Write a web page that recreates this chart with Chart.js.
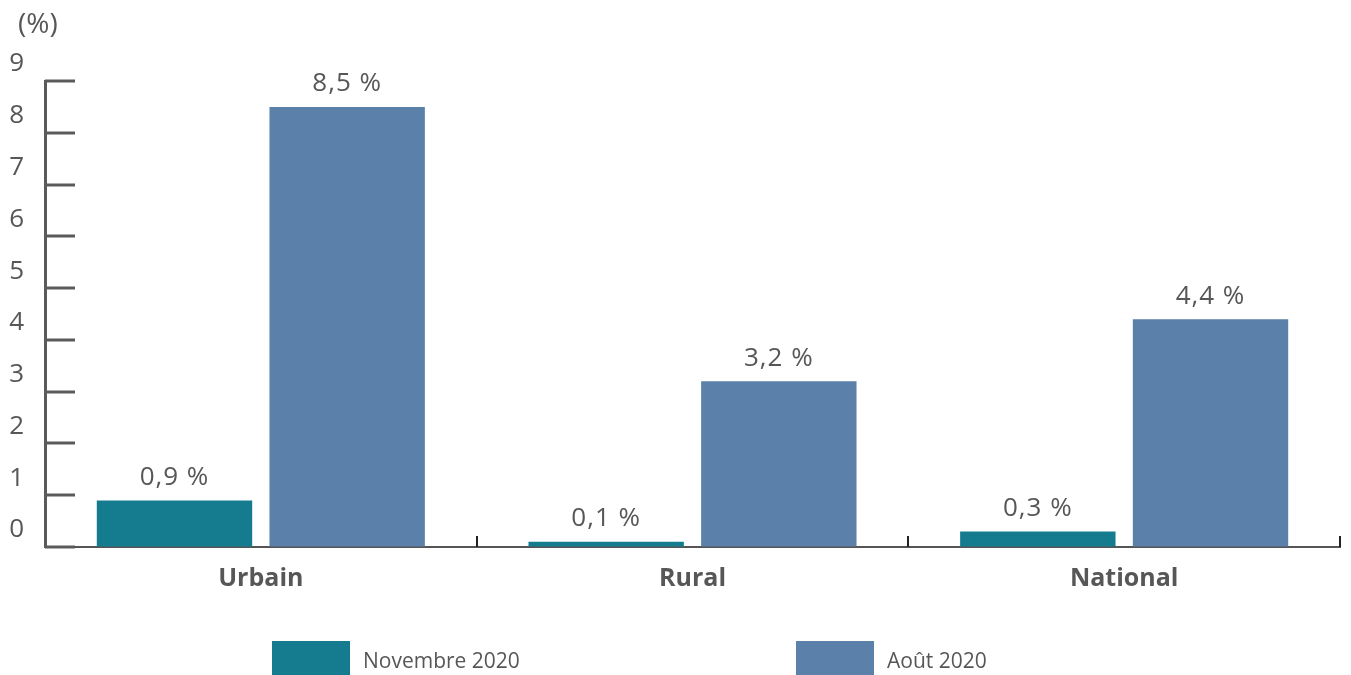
<!DOCTYPE html>
<html>
<head>
<meta charset="utf-8">
<title>Taux par milieu</title>
<script src="https://cdn.jsdelivr.net/npm/chart.js@4/dist/chart.umd.min.js"></script>
<style>
  html, body { margin: 0; padding: 0; background: #fff; }
  #wrap { width: 1351px; height: 675px; position: relative; }
</style>
</head>
<body>
<div id="wrap"><canvas id="tauxChart"></canvas></div>
<script>
// data
var categories = ["Urbain", "Rural", "National"];
var seriesLabels = ["Novembre 2020", "Août 2020"];
var novembre2020 = [0.9, 0.1, 0.3];
var aout2020 = [8.5, 3.2, 4.4];
var yTickValues = [0, 1, 2, 3, 4, 5, 6, 7, 8, 9];

var TEAL = "#157c90";
var BLUE = "#5b80aa";
var GREY = "#575757";

function fmt(v) {
  return v.toFixed(1).replace(".", ",") + " %";
}

// short tick marks drawn inward from the axes
var axisMarks = {
  id: "axisMarks",
  afterDraw: function (chart) {
    var ctx = chart.ctx, area = chart.chartArea;
    var y = chart.scales.y, x = chart.scales.x;
    ctx.save();
    ctx.strokeStyle = "#5a5a5a";
    ctx.lineWidth = 3;
    y.ticks.forEach(function (t) {
      var py = Math.round(y.getPixelForValue(t.value));
      ctx.beginPath();
      ctx.moveTo(area.left, py);
      ctx.lineTo(area.left + 30, py);
      ctx.stroke();
    });
    // category separators on the x axis
    ctx.strokeStyle = "#222";
    ctx.lineWidth = 2;
    for (var i = 0; i < categories.length; i++) {
      var px = Math.round(x.getPixelForValue(i + 0.5));
      ctx.beginPath();
      ctx.moveTo(px, area.bottom);
      ctx.lineTo(px, area.bottom - 11);
      ctx.stroke();
    }
    // unit above the y axis
    ctx.fillStyle = GREY;
    ctx.font = "28px 'Open Sans'";
    ctx.textAlign = "left";
    ctx.textBaseline = "middle";
    ctx.fillText("(%)", 18, 25);
    ctx.restore();
  }
};

// value above each bar
var valueLabels = {
  id: "valueLabels",
  afterDatasetsDraw: function (chart) {
    var ctx = chart.ctx;
    ctx.save();
    ctx.fillStyle = GREY;
    ctx.font = "26px 'Open Sans'";
    ctx.letterSpacing = "1px";
    ctx.textAlign = "center";
    ctx.textBaseline = "middle";
    chart.data.datasets.forEach(function (ds, di) {
      chart.getDatasetMeta(di).data.forEach(function (bar, i) {
        ctx.fillText(fmt(ds.data[i]), bar.x, bar.y - 23);
      });
    });
    ctx.restore();
  }
};

// legend row at the bottom
var legendRow = {
  id: "legendRow",
  afterDraw: function (chart) {
    var ctx = chart.ctx, left = chart.chartArea.left;
    var starts = [left + 227, left + 751];
    ctx.save();
    ctx.font = "21px 'Open Sans'";
    ctx.textAlign = "left";
    ctx.textBaseline = "middle";
    chart.data.datasets.forEach(function (ds, i) {
      ctx.fillStyle = ds.backgroundColor;
      ctx.fillRect(starts[i], 641, 78, 34);
      ctx.fillStyle = GREY;
      ctx.fillText(ds.label, starts[i] + 91, 662);
    });
    ctx.restore();
  }
};

var ctx = document.getElementById("tauxChart");
var tauxChart = new Chart(ctx, {
  type: "bar",
  data: {
    labels: categories,
    datasets: [
      { label: seriesLabels[0], data: novembre2020, backgroundColor: TEAL },
      { label: seriesLabels[1], data: aout2020, backgroundColor: BLUE }
    ]
  },
  options: {
    responsive: true,
    maintainAspectRatio: false,
    animation: false,
    devicePixelRatio: 1,
    layout: { padding: { top: 81, right: 11, bottom: 0, left: 0 } },
    plugins: {
      legend: { display: false },
      tooltip: { enabled: false },
      title: { display: false }
    },
    scales: {
      x: {
        grid: { drawOnChartArea: false, drawTicks: false },
        border: { display: true, color: "#555", width: 2 },
        ticks: {
          color: GREY,
          padding: 17,
          font: { family: "'Open Sans'", size: 25, weight: "bold" }
        },
        afterFit: function (scale) { scale.height = 128; }
      },
      y: {
        min: 0,
        max: 9,
        grid: { drawOnChartArea: false, drawTicks: false },
        border: { display: true, color: "#5a5a5a", width: 3 },
        ticks: {
          stepSize: 1,
          color: GREY,
          padding: 21,
          labelOffset: -17,
          font: { family: "'Open Sans'", size: 26 }
        },
        afterBuildTicks: function (scale) {
          scale.ticks = yTickValues.map(function (v) { return { value: v }; });
        },
        afterFit: function (scale) { scale.width = 45; }
      }
    }
  },
  plugins: [axisMarks, valueLabels, legendRow]
});
</script>
</body>
</html>
